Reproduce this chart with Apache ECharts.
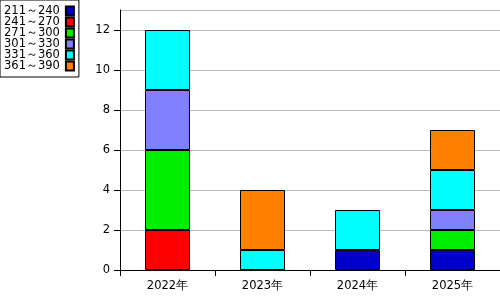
<!DOCTYPE html>
<html><head><meta charset="utf-8">
<script src="https://cdn.jsdelivr.net/npm/echarts@6/dist/echarts.min.js"></script>
<style>html,body{margin:0;padding:0;background:#fff}#c{width:500px;height:300px}</style>
</head><body><div id="c"></div>
<script>
const categories = ['2022年','2023年','2024年','2025年'];
const seriesNames = ['211～240','241～270','271～300','301～330','331～360','361～390'];
const s211 = [0,0,1,1];
const s241 = [2,0,0,0];
const s271 = [4,0,0,1];
const s301 = [3,0,0,1];
const s331 = [3,1,2,2];
const s361 = [0,3,0,2];
const colors = ['#0000cc','#ff0000','#00ee00','#8080ff','#00ffff','#ff8000'];
const values = [s211,s241,s271,s301,s331,s361];
const chart = echarts.init(document.getElementById('c'));
chart.setOption({
  animation:false,
  textStyle:{fontFamily:'DejaVu Sans',fontSize:11,color:'#000'},
  grid:{left:120,right:0,top:10,bottom:30},
  legend:{
    left:0,top:0,orient:'vertical',align:'right',icon:'rect',
    itemWidth:8,itemHeight:9,itemGap:-1,
    borderColor:'#000',borderWidth:1,padding:[5,4,5,4],
    textStyle:{fontFamily:'DejaVu Sans',fontSize:11.5,color:'#000',padding:[0,1,0,0]},
    data:seriesNames
  },
  xAxis:{type:'category',data:categories,
    axisLine:{lineStyle:{color:'#000',width:1}},
    axisTick:{show:true,length:6,lineStyle:{color:'#000'}},
    axisLabel:{color:'#000',fontSize:11.5,margin:10}},
  yAxis:{type:'value',min:0,max:13,interval:2,
    axisLine:{show:true,lineStyle:{color:'#000'}},
    axisTick:{show:true,length:6,lineStyle:{color:'#000'}},
    splitLine:{lineStyle:{color:'#bbb'}},
    axisLabel:{color:'#000',fontSize:11.5,margin:10,showMaxLabel:false}},
  series: values.map((v,i)=>({
    name:seriesNames[i],type:'bar',stack:'a',data:v.map(x=>x===0?null:x),barWidth:45,
    itemStyle:{color:colors[i],borderColor:'#000',borderWidth:1}
  }))
});
</script></body></html>
